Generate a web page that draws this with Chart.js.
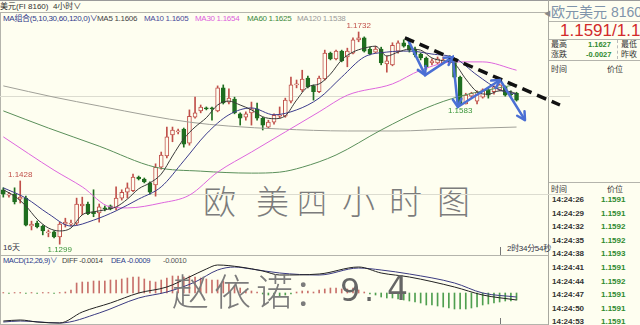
<!DOCTYPE html>
<html>
<head>
<meta charset="utf-8">
<script src="https://cdn.jsdelivr.net/npm/chart.js@4.4.0/dist/chart.umd.min.js"></script>
<style>
  body { margin: 0; width: 640px; height: 325px; background: #fefef0; overflow: hidden; position: relative;
         font-family: "Liberation Sans", Arial, "Noto Sans CJK SC", sans-serif; }
  .t { position: absolute; white-space: nowrap; font-size: 8px; line-height: 10px; }
  .hl { position: absolute; background: #b4b4ac; height: 1px; }
  .vl { position: absolute; background: #b4b4ac; width: 1px; }
  .hw { position: absolute; font-family: "Noto Sans CJK SC", sans-serif; color: #7c7c7c; font-weight: 200; line-height: 1; }
  .hwn { position: absolute; font-family: "DejaVu Sans", sans-serif; color: #666; line-height: 1; }
  #priceChart { position: absolute; left: 0; top: 14px; z-index: 2; }
  #macdChart { position: absolute; left: 0; top: 256px; z-index: 2; }
  .row { position: absolute; font-size: 8px; font-weight: bold; line-height: 10px; }
  .tm { left: 552px; color: #333; }
  .pr { left: 601px; color: #2f8a2f; }
</style>
</head>
<body>
<!-- frame -->
<div class="hl" style="left:0;top:0;width:640px;background:#9a9a9a"></div>
<div class="hl" style="left:0;top:12px;width:548px"></div>
<div class="hl" style="left:0;top:255px;width:548px"></div>
<div class="hl" style="left:0;top:324px;width:548px"></div>
<div class="vl" style="left:0;top:12px;height:313px"></div>
<div class="vl" style="left:548px;top:0;height:325px;background:#a8a8a0"></div>
<div class="vl" style="left:500px;top:247px;height:8px;background:#777"></div>
<div class="vl" style="left:500px;top:318px;height:6px;background:#777"></div>

<div class="t" style="left:0;top:2px;color:#333">美元(FI 8160)&nbsp;&nbsp;4小时∨</div>

<!-- MA legend -->
<div class="t" style="left:3px;top:14px;color:#303a8a;letter-spacing:-0.3px">MA组合(5,10,30,60,120,0)∨</div>
<div class="t" style="left:97px;top:14px;color:#444;letter-spacing:-0.3px">MA5 1.1606</div>
<div class="t" style="left:144px;top:14px;color:#4a4a9a;letter-spacing:-0.3px">MA10 1.1605</div>
<div class="t" style="left:195px;top:14px;color:#dd5fdd;letter-spacing:-0.3px">MA30 1.1654</div>
<div class="t" style="left:247px;top:14px;color:#3d8a3d;letter-spacing:-0.3px">MA60 1.1625</div>
<div class="t" style="left:297px;top:14px;color:#9a9a9a;letter-spacing:-0.3px">MA120 1.1538</div>

<div class="t" style="left:3px;top:243px;color:#334">16天</div>
<div class="t" style="left:507px;top:244px;color:#334;letter-spacing:-0.3px">2时34分54秒</div>

<!-- MACD header -->
<div class="t" style="left:3px;top:256px;color:#2c3b8c;letter-spacing:-0.4px;font-size:7.5px">MACD(12,26,9)∨</div>
<div class="t" style="left:62px;top:256px;color:#444;letter-spacing:-0.3px;font-size:7.5px">DIFF -0.0014</div>
<div class="t" style="left:111px;top:256px;color:#2c3b8c;letter-spacing:-0.3px;font-size:7.5px">DEA -0.0009</div>
<div class="t" style="left:163px;top:256px;color:#555;letter-spacing:-0.3px;font-size:7.5px">-0.0010</div>

<!-- right panel -->
<div class="t" style="left:544px;top:9px;color:#888;font-size:7px">◀</div>
<div class="t" style="left:551px;top:4px;font-size:14px;line-height:16px;color:#7f94aa">欧元美元 8160</div>
<div class="hl" style="left:549px;top:21px;width:91px"></div>
<div class="t" style="left:560px;top:21px;font-size:17px;line-height:19px;color:#d22a2a">1.1591/1.1</div>
<div class="hl" style="left:549px;top:39px;width:91px"></div>
<div class="t" style="left:551px;top:40px;color:#333">最高</div>
<div class="t" style="left:588px;top:40px;color:#2f8a2f;font-weight:bold;font-size:7.5px">1.1627</div>
<div class="t" style="left:621px;top:40px;color:#333">最低</div>
<div class="t" style="left:551px;top:50px;color:#333">涨跌</div>
<div class="t" style="left:586px;top:50px;color:#2f8a2f;font-weight:bold;font-size:7.5px">-0.0027</div>
<div class="t" style="left:621px;top:50px;color:#333">昨收</div>
<div class="vl" style="left:617px;top:40px;height:19px;background:none;border-left:1px dashed #bbb"></div>
<div class="hl" style="left:549px;top:60px;width:91px"></div>
<div class="t" style="left:551px;top:65px;color:#333">时间</div>
<div class="t" style="left:607px;top:65px;color:#333">价位</div>
<div class="hl" style="left:549px;top:182px;width:91px"></div>
<div class="t" style="left:551px;top:185px;color:#333">时间</div>
<div class="t" style="left:607px;top:185px;color:#333">价位</div>
<div id="ticks"></div>

<canvas id="priceChart" width="570" height="241"></canvas>
<canvas id="macdChart" width="548" height="68"></canvas>

<!-- handwritten notes -->
<div class="hw" style="left:203px;top:184px;font-size:33px">欧</div>
<div class="hw" style="left:256px;top:184px;font-size:33px">美</div>
<div class="hw" style="left:297px;top:186px;font-size:30px">四</div>
<div class="hw" style="left:342px;top:184px;font-size:33px">小</div>
<div class="hw" style="left:389px;top:184px;font-size:33px">时</div>
<div class="hw" style="left:437px;top:184px;font-size:33px">图</div>
<div class="hw" style="left:172px;top:272px;font-size:37px;z-index:3">赵</div>
<div class="hw" style="left:214px;top:272px;font-size:37px;z-index:3">依</div>
<div class="hw" style="left:256px;top:272px;font-size:37px;z-index:3">诺</div>
<div class="hw" style="left:294px;top:272px;font-size:37px;z-index:3">：</div>
<div class="hwn" style="left:340px;top:274px;font-size:32px;z-index:3">9</div>
<div class="hwn" style="left:364px;top:274px;font-size:32px;z-index:3">.</div>
<div class="hwn" style="left:387px;top:272px;font-size:33px;z-index:3">4</div>

<script>
document.addEventListener('DOMContentLoaded', () => {
    // K线数据 (4小时)
    const opens = [1.1410,1.1399,1.1401,1.1391,1.1393,1.1336,1.1342,1.1336,1.1322,1.1324,
        1.1314,1.1340,1.1340,1.1342,1.1377,1.1381,1.1365,1.1363,1.1373,1.1377,
        1.1373,1.1393,1.1405,1.1408,1.1436,1.1432,1.1424,1.1420,1.1456,1.1479,
        1.1522,1.1528,1.1534,1.1505,1.1558,1.1571,1.1577,1.1577,1.1571,1.1618,
        1.1589,1.1595,1.1565,1.1558,1.1567,1.1575,1.1556,1.1538,1.1548,1.1560,
        1.1560,1.1591,1.1624,1.1614,1.1638,1.1622,1.1610,1.1636,1.1689,1.1677,
        1.1693,1.1681,1.1689,1.1716,1.1720,1.1697,1.1691,1.1697,1.1667,1.1665,
        1.1693,1.1710,1.1705,1.1697,1.1687,1.1679,1.1669,1.1669,1.1669,1.1673,
        1.1671,1.1640,1.1585,1.1601,1.1591,1.1599,1.1614,1.1610,1.1614,1.1620,
        1.1605,1.1607];
    const highs = [1.1414,1.1405,1.1414,1.1428,1.1397,1.1346,1.1346,1.1338,1.1328,1.1326,
        1.1344,1.1352,1.1348,1.1393,1.1395,1.1385,1.1410,1.1381,1.1377,1.1379,
        1.1416,1.1410,1.1424,1.1442,1.1438,1.1434,1.1426,1.1463,1.1487,1.1538,
        1.1538,1.1534,1.1536,1.1573,1.1599,1.1583,1.1579,1.1579,1.1622,1.1624,
        1.1616,1.1599,1.1567,1.1569,1.1589,1.1587,1.1558,1.1552,1.1565,1.1579,
        1.1597,1.1640,1.1634,1.1654,1.1642,1.1624,1.1642,1.1695,1.1691,1.1695,
        1.1695,1.1699,1.1720,1.1732,1.1722,1.1701,1.1703,1.1701,1.1683,1.1710,
        1.1714,1.1716,1.1712,1.1701,1.1689,1.1681,1.1677,1.1681,1.1681,1.1683,
        1.1675,1.1642,1.1607,1.1609,1.1612,1.1616,1.1618,1.1622,1.1626,1.1622,
        1.1612,1.1609];
    const lows = [1.1395,1.1395,1.1381,1.1383,1.1336,1.1328,1.1332,1.1318,1.1314,1.1312,
        1.1299,1.1334,1.1336,1.1338,1.1359,1.1359,1.1355,1.1344,1.1367,1.1369,
        1.1369,1.1389,1.1393,1.1406,1.1430,1.1424,1.1401,1.1397,1.1452,1.1475,
        1.1508,1.1524,1.1497,1.1501,1.1556,1.1567,1.1573,1.1552,1.1569,1.1585,
        1.1585,1.1565,1.1542,1.1552,1.1542,1.1552,1.1532,1.1536,1.1544,1.1556,
        1.1558,1.1587,1.1618,1.1610,1.1618,1.1593,1.1608,1.1634,1.1675,1.1675,
        1.1671,1.1661,1.1687,1.1712,1.1691,1.1685,1.1689,1.1665,1.1650,1.1663,
        1.1689,1.1701,1.1691,1.1681,1.1675,1.1656,1.1665,1.1667,1.1667,1.1665,
        1.1638,1.1583,1.1585,1.1597,1.1585,1.1597,1.1597,1.1605,1.1612,1.1601,
        1.1601,1.1591];
    const closes = [1.1401,1.1401,1.1385,1.1395,1.1338,1.1340,1.1334,1.1326,1.1324,1.1314,
        1.1340,1.1344,1.1342,1.1381,1.1381,1.1361,1.1361,1.1375,1.1371,1.1371,
        1.1393,1.1405,1.1414,1.1436,1.1432,1.1426,1.1405,1.1456,1.1481,1.1518,
        1.1532,1.1530,1.1503,1.1560,1.1567,1.1579,1.1575,1.1575,1.1618,1.1587,
        1.1597,1.1567,1.1556,1.1565,1.1575,1.1556,1.1542,1.1548,1.1562,1.1562,
        1.1593,1.1624,1.1626,1.1636,1.1620,1.1610,1.1638,1.1689,1.1677,1.1693,
        1.1673,1.1693,1.1716,1.1720,1.1693,1.1687,1.1697,1.1669,1.1673,1.1705,
        1.1710,1.1703,1.1695,1.1685,1.1679,1.1661,1.1673,1.1677,1.1675,1.1672,
        1.1640,1.1585,1.1603,1.1607,1.1609,1.1614,1.1603,1.1620,1.1624,1.1603,
        1.1604,1.1593];

    // 均线 (读取的点)
    const ma5Idx = [0,2,4,6,8,10,12,14,16,18,20,22,24,26,28,30,32,34,36,38,40,42,44,46,48,50,
        52,54,56,58,60,62,64,66,68,70,72,74,76,78,80,82,84,86,88,90,91];
    const ma5Val = [1.1410,1.1397,1.1377,1.1350,1.1332,1.1326,1.1332,1.1359,1.1365,1.1369,1.1375,
        1.1391,1.1412,1.1424,1.1442,1.1479,1.1514,1.1538,1.1557,1.1583,1.1591,1.1583,1.1573,
        1.1559,1.1555,1.1561,1.1593,1.1620,1.1626,1.1646,1.1675,1.1691,1.1699,1.1703,1.1683,
        1.1691,1.1697,1.1695,1.1679,1.1673,1.1667,1.1636,1.1610,1.1605,1.1612,1.1610,1.1606];
    const ma10Idx = [0,4,8,12,16,20,24,28,32,36,40,44,48,52,56,60,64,68,72,76,80,84,88,91];
    const ma10Val = [1.1414,1.1393,1.1361,1.1336,1.1348,1.1367,1.1391,1.1416,1.1469,1.1524,1.1563,
        1.1577,1.1563,1.1573,1.1597,1.1640,1.1681,1.1691,1.1693,1.1687,1.1679,1.1644,1.1614,1.1605];
    const ma30Idx = [0,9,14,19,22,28,33,38,44,50,56,61,69,74,80,85,91];
    const ma30Val = [1.1518,1.1450,1.1416,1.1375,1.1373,1.1383,1.1399,1.1446,1.1487,1.1528,1.1569,
        1.1603,1.1626,1.1654,1.1671,1.1671,1.1654];
    const ma60Idx = [0,8,17,27,35,44,49,53,59,67,75,81,91];
    const ma60Val = [1.1571,1.1536,1.1499,1.1456,1.1448,1.1444,1.1446,1.1456,1.1481,1.1532,1.1577,
        1.1601,1.1625];
    const ma120Idx = [0,9,17,26,33,40,49,61,70,79,91];
    const ma120Val = [1.1622,1.1599,1.1581,1.1561,1.1548,1.1540,1.1534,1.1530,1.1530,1.1534,1.1538];

    // 高低点标注
    const markIdx = [63, 81, 10, 3];
    const markText = ['1.1732', '1.1583', '1.1299', '1.1428'];
    const markAbove = [true, false, false, true];

    // 手画趋势线和走势箭头
    const trendIdx = [71.2, 98.7];
    const trendVal = [1.1720, 1.1583];
    const zigIdx = [71.6, 74.8, 79.7, 80.6, 88.1, 92.5];
    const zigVal = [1.1720, 1.1644, 1.1681, 1.1579, 1.1634, 1.1552];

    const gridPrices = [1.14, 1.16];

    // MACD
    const macdHist = [0.0001,-0.0001,0.0001,0.0001,-0.0001,0.0001,-0.0001,0.0001,0.0001,-0.0001,
        0.0001,0.0002,0.0006,0.0020,0.0022,0.0022,0.0024,0.0024,0.0024,0.0026,
        0.0026,0.0028,0.0030,0.0032,0.0032,0.0028,0.0024,0.0022,0.0026,0.0030,
        0.0034,0.0034,0.0032,0.0034,0.0032,0.0030,0.0028,0.0026,0.0026,0.0024,
        0.0020,0.0014,0.0010,0.0006,0.0004,0.0002,-0.0002,-0.0004,-0.0006,-0.0006,
        -0.0004,-0.0002,0.0002,0.0004,0.0004,0.0002,0.0006,0.0008,0.0010,0.0010,
        0.0008,0.0008,0.0010,0.0006,0.0002,-0.0002,-0.0004,-0.0008,-0.0010,-0.0010,
        -0.0012,-0.0014,-0.0016,-0.0018,-0.0020,-0.0024,-0.0024,-0.0026,-0.0028,-0.0030,
        -0.0032,-0.0032,-0.0032,-0.0030,-0.0028,-0.0024,-0.0022,-0.0020,-0.0018,-0.0016,
        -0.0016,-0.0014];
    const diffIdx = [0,3,6,10,14,19,24,29,33,36,38,42,46,49,56,63,67,72,80,85,91];
    const diffVal = [-0.0056,-0.0054,-0.0058,-0.0060,-0.0038,-0.0020,0.0000,0.0012,0.0032,0.0048,
        0.0056,0.0052,0.0044,0.0036,0.0038,0.0052,0.0040,0.0032,0.0012,-0.0004,-0.0014];
    const deaIdx = [0,3,10,17,24,29,34,38,41,44,49,56,63,67,72,80,85,91];
    const deaVal = [-0.0058,-0.0056,-0.0060,-0.0040,-0.0010,0.0002,0.0022,0.0046,0.0052,0.0048,
        0.0040,0.0036,0.0050,0.0046,0.0038,0.0020,0.0000,-0.0008];

    // 分笔成交
    const tickTimes = ['14:24:26','14:24:29','14:24:32','14:24:35','14:24:38','14:24:41','14:24:44','14:24:47','14:24:50','14:24:53'];
    const tickPrices = ['1.1591','1.1591','1.1592','1.1592','1.1593','1.1591','1.1592','1.1591','1.1591','1.1591'];

    const tickBox = document.getElementById('ticks');
    tickTimes.forEach((t, i) => {
        const top = 195 + i * 13.6;
        tickBox.insertAdjacentHTML('beforeend',
            `<div class="row tm" style="top:${top}px">${t}</div><div class="row pr" style="top:${top}px">${tickPrices[i]}</div>`);
    });

    const UP = '#c0504a';
    const DOWN = '#1f6e1f';
    const BG = '#fefef0';
    const isUp = i => closes[i] >= opens[i];
    const pts = (idx, val) => idx.map((x, i) => ({ x, y: val[i] }));
    const maLine = (label, idx, val, color) => ({
        type: 'line', label, data: pts(idx, val), borderColor: color, borderWidth: 1,
        pointRadius: 0, fill: false, cubicInterpolationMode: 'monotone', order: 1
    });

    // 箭头
    const arrowHeads = {
        id: 'arrowHeads',
        afterDatasetsDraw(chart) {
            const dsIndex = chart.data.datasets.findIndex(d => d.label === 'zigzag');
            const p = chart.getDatasetMeta(dsIndex).data;
            const ctx = chart.ctx;
            ctx.save();
            ctx.strokeStyle = '#4b6fd4';
            ctx.lineWidth = 2.5;
            ctx.lineCap = 'round';
            for (let i = 1; i < p.length; i++) {
                const ang = Math.atan2(p[i].y - p[i - 1].y, p[i].x - p[i - 1].x);
                ctx.beginPath();
                [-1, 1].forEach(s => {
                    ctx.moveTo(p[i].x, p[i].y);
                    ctx.lineTo(p[i].x - 9 * Math.cos(ang + s * 0.5), p[i].y - 9 * Math.sin(ang + s * 0.5));
                });
                ctx.stroke();
            }
            ctx.restore();
        }
    };

    // 最高最低价标注
    const extremeLabels = {
        id: 'extremeLabels',
        afterDatasetsDraw(chart) {
            const ctx = chart.ctx;
            const xs = chart.scales.x, ys = chart.scales.y;
            ctx.save();
            ctx.font = '8px "Liberation Sans", Arial';
            markIdx.forEach((idx, k) => {
                const price = markAbove[k] ? highs[idx] : lows[idx];
                const w = ctx.measureText(markText[k]).width;
                const x = Math.max(xs.getPixelForValue(idx) - w / 2, 3);
                const y = ys.getPixelForValue(price);
                ctx.fillStyle = markAbove[k] ? '#c0504a' : '#3c963c';
                ctx.textBaseline = markAbove[k] ? 'bottom' : 'top';
                ctx.fillText(markText[k], x, markAbove[k] ? y - 2 : y + 2);
            });
            ctx.restore();
        }
    };

    new Chart(document.getElementById('priceChart'), {
        type: 'bar',
        data: {
            datasets: [
                {
                    type: 'line', label: 'trend', data: pts(trendIdx, trendVal),
                    borderColor: '#111', borderWidth: 3.5, borderDash: [10, 6],
                    pointRadius: 0, fill: false, order: 0
                },
                {
                    type: 'line', label: 'zigzag', data: pts(zigIdx, zigVal),
                    borderColor: '#4b6fd4', borderWidth: 2.5, pointRadius: 0,
                    fill: false, tension: 0, order: 0
                },
                maLine('MA5', ma5Idx, ma5Val, '#3a3a3a'),
                maLine('MA10', ma10Idx, ma10Val, '#3c3c8c'),
                maLine('MA30', ma30Idx, ma30Val, '#dd66dd'),
                maLine('MA60', ma60Idx, ma60Val, '#5a8f5a'),
                maLine('MA120', ma120Idx, ma120Val, '#a0a098'),
                {
                    label: 'body',
                    data: opens.map((o, i) => ({ x: i, y: [o, closes[i]] })),
                    backgroundColor: c => isUp(c.dataIndex) ? BG : DOWN,
                    borderColor: c => isUp(c.dataIndex) ? UP : DOWN,
                    borderWidth: 1, borderSkipped: false, barThickness: 4,
                    minBarLength: 1, grouped: false, order: 2
                },
                {
                    label: 'wick',
                    data: lows.map((l, i) => ({ x: i, y: [l, highs[i]] })),
                    backgroundColor: c => isUp(c.dataIndex) ? UP : DOWN,
                    borderWidth: 0, barThickness: 1, grouped: false, order: 3
                }
            ]
        },
        options: {
            responsive: false,
            animation: false,
            layout: { padding: 0 },
            plugins: { legend: { display: false }, tooltip: { enabled: false } },
            scales: {
                x: { type: 'linear', min: -0.585, max: 100.48, offset: false, display: false },
                y: {
                    min: 1.12769, max: 1.17687,
                    afterBuildTicks: s => { s.ticks = gridPrices.map(v => ({ value: v })); },
                    ticks: { display: false },
                    grid: { color: '#dcdcd0', drawTicks: false },
                    border: { display: false }
                }
            }
        },
        plugins: [arrowHeads, extremeLabels]
    });

    new Chart(document.getElementById('macdChart'), {
        type: 'bar',
        data: {
            datasets: [
                {
                    type: 'line', label: 'DIFF', data: pts(diffIdx, diffVal),
                    borderColor: '#222', borderWidth: 1, pointRadius: 0,
                    cubicInterpolationMode: 'monotone', order: 0
                },
                {
                    type: 'line', label: 'DEA', data: pts(deaIdx, deaVal),
                    borderColor: '#3a3a80', borderWidth: 1, pointRadius: 0,
                    cubicInterpolationMode: 'monotone', order: 0
                },
                {
                    label: 'MACD',
                    data: macdHist.map((v, i) => ({ x: i, y: v })),
                    backgroundColor: c => c.raw.y >= 0 ? '#c8706a' : '#4f9f4f',
                    barThickness: 1, grouped: false, order: 1
                }
            ]
        },
        options: {
            responsive: false,
            animation: false,
            layout: { padding: 0 },
            plugins: { legend: { display: false }, tooltip: { enabled: false } },
            scales: {
                x: { type: 'linear', min: -0.585, max: 96.58, offset: false, display: false },
                y: { min: -0.0062, max: 0.0074, display: false }
            }
        }
    });
});
</script>
</body>
</html>
